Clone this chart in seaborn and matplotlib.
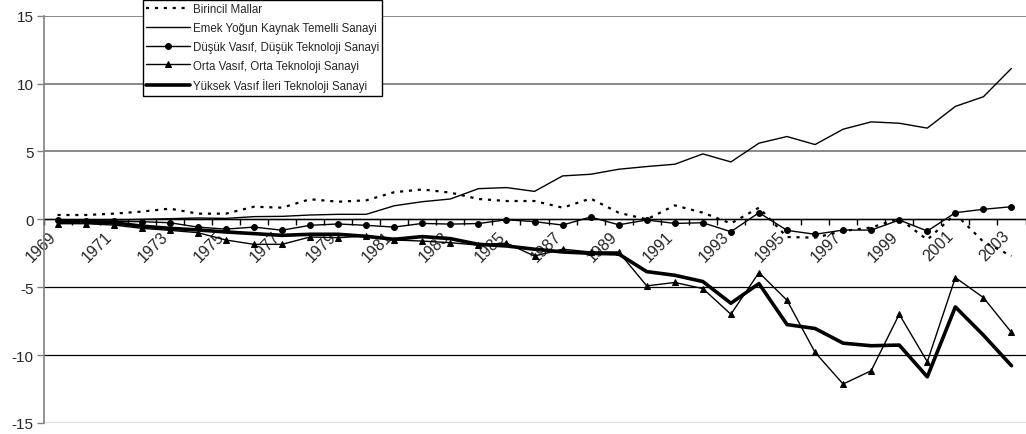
import matplotlib
matplotlib.use("Agg")
import matplotlib.pyplot as plt
import matplotlib.transforms as mtransforms
import numpy as np
import pandas as pd
import seaborn as sns

# ---------------- data ----------------
years = list(range(1969, 2004))
year_labels = ["1969", "1971", "1973", "1975", "1977", "1979", "1981", "1983", "1985",
               "1987", "1989", "1991", "1993", "1995", "1997", "1999", "2001", "2003"]
y_ticks = [-15, -10, -5, 0, 5, 10, 15]

birincil = [0.32, 0.32, 0.42, 0.57, 0.79, 0.42, 0.42, 0.93, 0.86, 1.48,
            1.30, 1.40, 2.00, 2.20, 1.97, 1.50, 1.35, 1.35, 0.86, 1.53,
            0.49, 0.00, 1.03, 0.49, -0.30, 0.86, -1.30, -1.35, -0.86, -0.60,
            0.05, -1.50, 0.40, -1.65, -2.70]
emek = [-0.10, -0.07, -0.05, 0.00, 0.05, 0.10, 0.07, 0.20, 0.22, 0.32,
        0.37, 0.37, 1.00, 1.30, 1.50, 2.26, 2.34, 2.06, 3.20, 3.32,
        3.69, 3.89, 4.06, 4.82, 4.23, 5.61, 6.10, 5.51, 6.64, 7.18,
        7.08, 6.72, 8.32, 9.03, 11.12]
dusuk = [-0.07, -0.12, -0.15, -0.17, -0.25, -0.57, -0.72, -0.57, -0.80, -0.44,
         -0.34, -0.44, -0.57, -0.30, -0.35, -0.31, -0.03, -0.17, -0.42, 0.17,
         -0.40, -0.05, -0.30, -0.25, -0.91, 0.49, -0.81, -1.10, -0.79, -0.79,
         -0.05, -0.86, 0.49, 0.74, 0.93]
orta = [-0.32, -0.32, -0.42, -0.66, -0.81, -0.98, -1.52, -1.84, -1.84, -1.30,
        -1.35, -1.23, -1.52, -1.60, -1.72, -1.90, -1.75, -2.70, -2.20, -2.40,
        -2.40, -4.90, -4.65, -5.10, -6.99, -3.92, -5.96, -9.80, -12.13, -11.15,
        -6.99, -10.49, -4.29, -5.76, -8.33]
yuksek = [-0.17, -0.20, -0.25, -0.50, -0.66, -0.78, -0.93, -1.05, -1.18, -1.10,
          -1.10, -1.25, -1.47, -1.27, -1.42, -1.84, -1.96, -2.20, -2.40, -2.50,
          -2.55, -3.85, -4.12, -4.58, -6.18, -4.73, -7.75, -8.04, -9.12, -9.31,
          -9.26, -11.60, -6.45, -8.53, -10.78]

names = ["Birincil Mallar",
         "Emek Yoğun Kaynak Temelli Sanayi",
         "Düşük Vasıf, Düşük Teknoloji Sanayi",
         "Orta Vasıf, Orta Teknoloji Sanayi",
         "Yüksek Vasıf İleri Teknoloji Sanayi"]

# ---------------- style ----------------
sns.set_style("white")
plt.rcParams["font.family"] = ["Liberation Sans", "DejaVu Sans"]
plt.rcParams["axes.unicode_minus"] = False

fig = plt.figure(figsize=(10.26, 4.35), dpi=100)
ax = fig.add_axes([43.5 / 1026, 11 / 435, 982 / 1026, 407.3 / 435])

styles = [
    dict(linestyle=(0, (1.4, 2.6)), linewidth=1.6),
    dict(linestyle="-", linewidth=1.0),
    dict(linestyle="-", linewidth=1.0, marker="o", markersize=4.2),
    dict(linestyle="-", linewidth=1.0, marker="^", markersize=4.2),
    dict(linestyle="-", linewidth=2.6),
]
series = [birincil, emek, dusuk, orta, yuksek]

for name, vals, st in zip(names, series, styles):
    df = pd.DataFrame({"year": years, "value": vals})
    sns.lineplot(data=df, x="year", y="value", ax=ax, color="black",
                 errorbar=None, label=name, markeredgecolor="black",
                 markerfacecolor="black", zorder=3, **st)

ax.set_xlim(1968.5, 2003.5)
ax.set_ylim(-15, 15)
ax.set_xlabel("")
ax.set_ylabel("")

# y axis
ax.set_yticks(y_ticks)
ax.set_yticklabels([str(t) for t in y_ticks])
ax.tick_params(axis="y", length=5, width=1, direction="out", color="#808080",
               labelsize=11, pad=2, left=True)
ax.yaxis.grid(True)
for t, gl in zip(y_ticks, ax.get_ygridlines()):
    if t > 0:
        gl.set_color("#808080")
        gl.set_linewidth(1.3)
    else:
        gl.set_color("black")
        gl.set_linewidth(0.9)
ax.set_axisbelow(True)

# x axis at y = 0
ax.spines["bottom"].set_position(("data", 0))
ax.spines["bottom"].set_color("black")
ax.spines["bottom"].set_linewidth(1.0)
ax.spines["bottom"].set_zorder(2)
ax.spines["top"].set_visible(False)
ax.spines["right"].set_visible(False)
ax.spines["left"].set_color("#808080")
ax.spines["left"].set_linewidth(1.2)

ax.set_xticks([int(s) for s in year_labels])
ax.set_xticklabels(year_labels, rotation=45, ha="right", va="center",
                   rotation_mode="anchor")
ax.set_xticks(np.arange(1968.5, 2004.0, 1.0), minor=True)
ax.tick_params(axis="x", which="major", length=0, labelsize=11.5, pad=10, bottom=True)
ax.tick_params(axis="x", which="minor", length=4, width=1, color="black",
               direction="out", bottom=True)
shift = mtransforms.ScaledTranslation(-4 / 100, 0, fig.dpi_scale_trans)
for lab in ax.get_xticklabels():
    lab.set_transform(lab.get_transform() + shift)

leg = ax.legend(loc="upper left", bbox_to_anchor=(143 / 1026, 1 - 1 / 435),
                bbox_transform=fig.transFigure, frameon=True, fancybox=False,
                edgecolor="black", framealpha=1, fontsize=8.3, handlelength=3.8,
                handletextpad=0.2, borderpad=0.3, labelspacing=0.58,
                borderaxespad=0, numpoints=1)
leg.get_frame().set_linewidth(1.0)
leg.set_zorder(5)

fig.savefig("out.png", dpi=100)
